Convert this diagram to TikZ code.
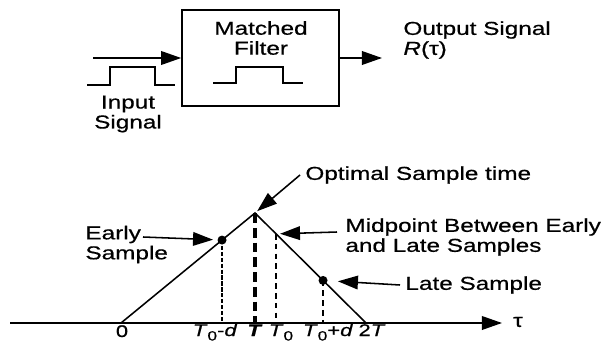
\documentclass[tikz,border=0pt]{standalone}
\usepackage{fontspec}
\setmainfont{Liberation Sans}[FakeStretch=1.3, FakeBold=0.6]
\usepackage{tikz}
\usetikzlibrary{arrows.meta, calc}
\tikzset{>={Triangle[length=0.5cm, width=0.34cm]}}
\newcommand{\subzero}{\raisebox{-0.5ex}{\fontsize{9.5}{10}\selectfont 0}}

\begin{document}
\begin{tikzpicture}[x=0.025cm, y=-0.025cm, line width=1.1pt, font=\fontsize{13.3}{14.2}\selectfont]
	\useasboundingbox (0,0) rectangle (607,342);
	
	\node[draw, minimum width=3.925cm, minimum height=2.4cm] (filter) at (260.5,58) {};
	
	\node[align=center] (title) at (261,38) {Matched\\Filter};
	
	\node[align=center] (inlabel) at (128,114) {Input\\Signal};
	
	\node[anchor=west, align=left] (outlabel) at (398,40) {Output Signal\\\textit{R}(τ)};
	
	\coordinate (in) at (93,58);
	\coordinate (out) at (382,58);
	
	\draw[->] (in) -- (filter);
	
	\draw[->] (filter) -- (out);
	
	% rectangular pulses
	\draw (87,85) -- (110,85) -- (110,67) -- (155,67) -- (155,85) -- (175,85);
	
	\draw (213,83) -- (236,83) -- (236,67) -- (283,67) -- (283,83) -- (303,83);
	
	% correlation triangle
	\coordinate (axisstart) at (10,323);
	\coordinate (axisend) at (502,323);
	\coordinate (origin) at (121,323);
	\coordinate (peak) at (255,213);
	\coordinate (end) at (366,323);
	\coordinate (early) at ($(origin)!0.754!(peak)$);
	\coordinate (mid) at ($(peak)!0.19!(end)$);
	\coordinate (late) at ($(peak)!0.613!(end)$);
	
	\draw[->] (axisstart) -- (axisend);
	
	\node (tau) at (518,322) {τ};
	
	\draw (origin) -- (peak) -- (end);
	
	\draw[line width=0.9pt, dash pattern=on 3pt off 1.2pt] (early) -- (early |- origin);
	
	\draw[line width=2.8pt, dash pattern=on 7pt off 3.5pt] (peak) -- (peak |- origin);
	
	\draw[line width=0.9pt, dash pattern=on 4pt off 3pt] (mid) -- (mid |- origin);
	
	\draw[line width=0.9pt, dash pattern=on 4pt off 3pt] (late) -- (late |- origin);
	
	\fill (early) circle (3.2pt);
	
	\fill (late) circle (3.2pt);
	
	% tick labels
	\begin{scope}[font=\fontsize{12}{14}\selectfont]
		\node[anchor=base] (lzero) at (122,337) {0};
		\node[anchor=base] (learly) at (215,336) {\textit{T}\subzero-\textit{d}};
		\node[anchor=base] (lopt) at (255,336) {\textbf{\textit{T}}};
		\node[anchor=base] (lmid) at (281,336) {\textit{T}\subzero};
		\node[anchor=base] (llate) at (328,336) {\textit{T}\subzero+\textit{d}};
		\node[anchor=base] (lend) at (372,336) {2\textit{T}};
	\end{scope}
	
	% annotations
	\node[anchor=west, align=left] (earlylabel) at (80,244.5) {Early\\Sample};
	
	\node[anchor=west] (optlabel) at (300,175) {Optimal Sample time};
	
	\node[anchor=west, align=left] (midlabel) at (340,237) {Midpoint Between Early\\and Late Samples};
	
	\node[anchor=west] (latelabel) at (400,285) {Late Sample};
	
	\coordinate (earlytail) at (143,237);
	\coordinate (midtail) at (337,232);
	
	\draw[->, shorten >=6.4pt] (earlytail) -- (early);
	
	\draw[->, shorten >=2pt] (optlabel.west) -- (peak);
	
	\draw[->, shorten >=2.8pt] (midtail) -- (mid);
	
	\draw[->, shorten >=10.6pt] (latelabel.west) -- (late);
\end{tikzpicture}
\end{document}
